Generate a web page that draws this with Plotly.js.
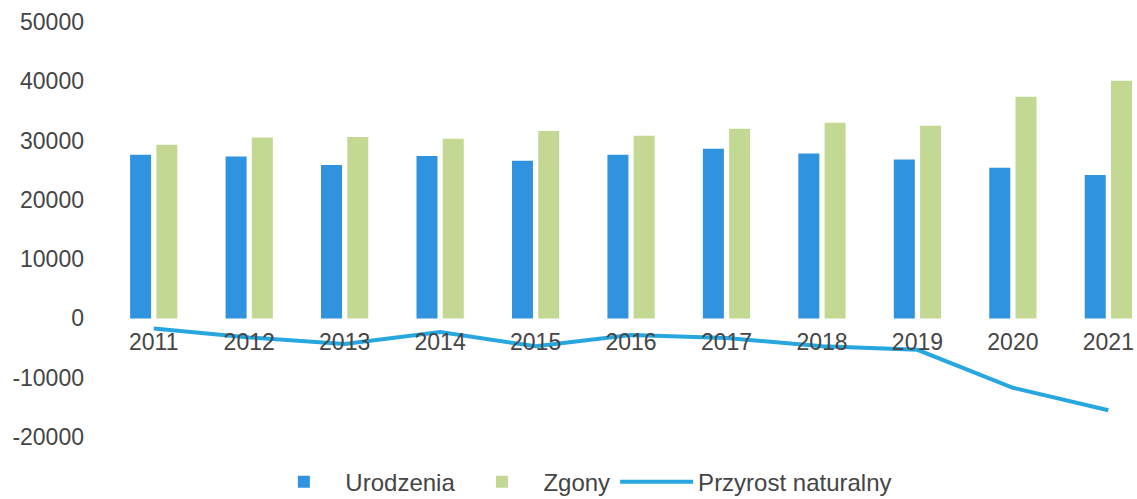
<!DOCTYPE html>
<html>
<head>
<meta charset="utf-8">
<script src="https://cdn.plot.ly/plotly-3.0.1.min.js"></script>
<style>html,body{margin:0;padding:0;background:#fff;}#chart{width:1137px;height:499px;}</style>
</head>
<body>
<div id="chart"></div>
<script>
const years = ['2011','2012','2013','2014','2015','2016','2017','2018','2019','2020','2021'];
const urodzenia = [27600, 27300, 25900, 27400, 26600, 27600, 28600, 27800, 26800, 25400, 24200];
const zgony = [29300, 30500, 30600, 30300, 31600, 30800, 32000, 33000, 32500, 37400, 40100];
const przyrost = [-1700, -3200, -4300, -2300, -4700, -2800, -3300, -4700, -5300, -11700, -15500];
const yTicks = [-20000, -10000, 0, 10000, 20000, 30000, 40000, 50000];

const font = {family: '"Liberation Sans", Arial, sans-serif', size: 23, color: '#454545'};
const legendFont = {family: '"Liberation Sans", Arial, sans-serif', size: 24, color: '#454545'};

const data = [
  {type: 'bar', name: 'Urodzenia', x: years, y: urodzenia, marker: {color: '#2f93df'}},
  {type: 'bar', name: 'Zgony', x: years, y: zgony, marker: {color: '#c3d893'}},
  {type: 'scatter', mode: 'lines', name: 'Przyrost naturalny', x: years, y: przyrost,
   line: {color: '#27a6df', width: 4}}
];

const layout = {
  width: 1137, height: 499,
  margin: {l: 106, r: 0, t: 22, b: 62, autoexpand: false},
  paper_bgcolor: '#fff', plot_bgcolor: '#fff',
  font: font,
  barmode: 'group', bargap: 0.45, bargroupgap: 0.2,
  showlegend: true,
  legend: {orientation: 'h', xref: 'container', x: 0.51, xanchor: 'center',
           yref: 'container', y: 0.034, yanchor: 'middle',
           font: legendFont, itemwidth: 73, traceorder: 'normal'},
  xaxis: {type: 'category', range: [-0.5, 10.3], anchor: 'free', position: 0.2867,
          showgrid: false, zeroline: false, showline: false, ticks: '',
          ticklabelstandoff: 8, tickfont: font, fixedrange: true},
  yaxis: {range: [-20000, 50000], tickvals: yTicks, ticktext: yTicks.map(String),
          showgrid: false, zeroline: false, showline: false, ticks: '',
          ticklabelstandoff: 21, tickfont: font, fixedrange: true}
};

Plotly.newPlot('chart', data, layout, {displayModeBar: false, staticPlot: true});
</script>
</body>
</html>
